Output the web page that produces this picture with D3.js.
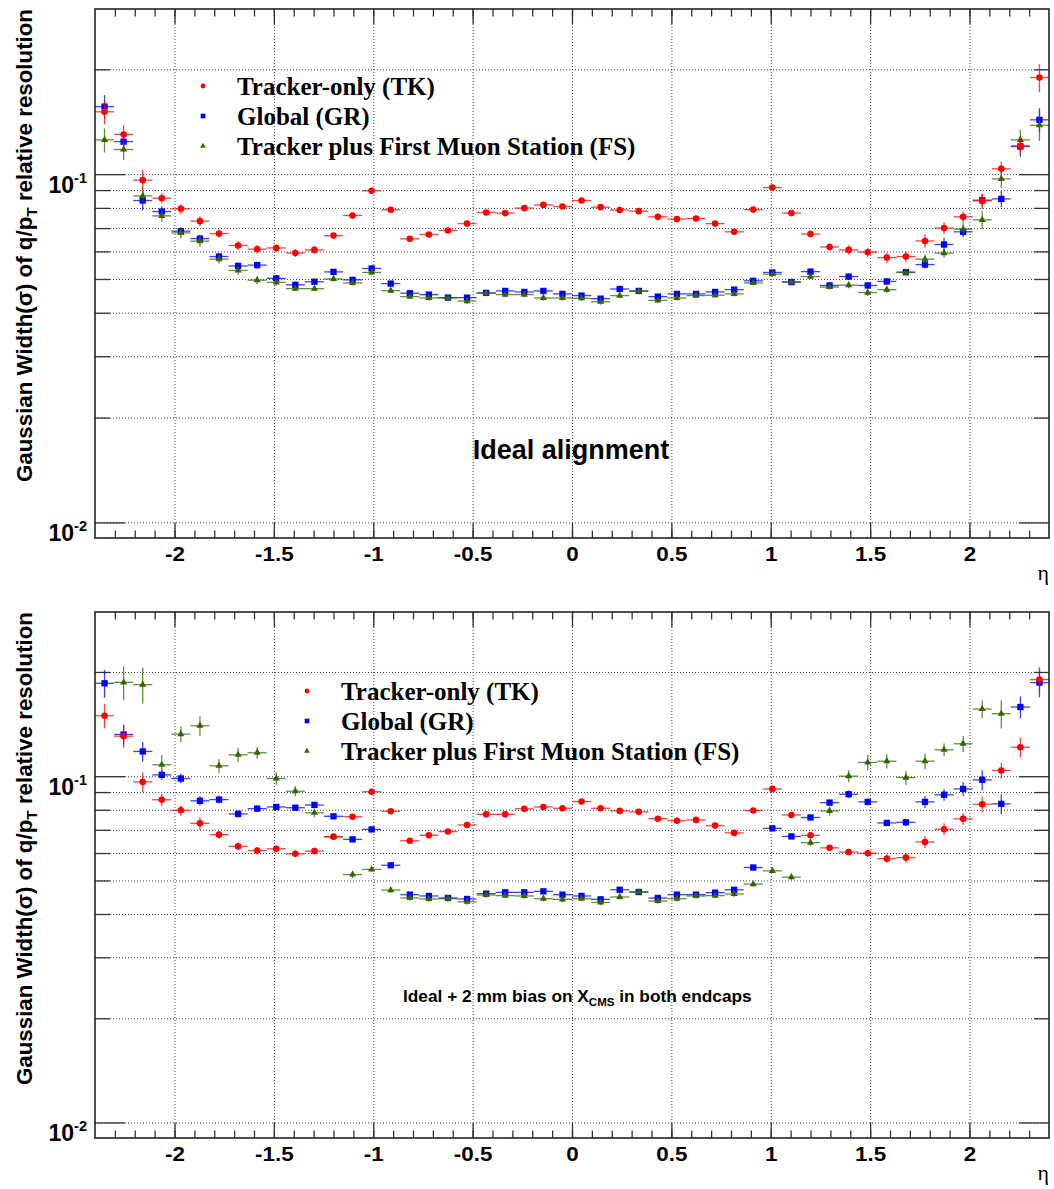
<!DOCTYPE html>
<html>
<head>
<meta charset="utf-8">
<title>q/pT resolution vs eta</title>
<script src="https://d3js.org/d3.v7.min.js"></script>
<style>
  body { margin: 0; background: #fff; }
  svg { display: block; background: #fff; }
  .frame { fill: none; stroke: #222; stroke-width: 1.6; }
  .grid line { stroke: #444; stroke-width: 1; stroke-dasharray: 1,2; }
  .grid path, .ticks path { display: none; }
  .ticks line { stroke: #333; stroke-width: 1.3; }
  .ticks text { font-family: "Liberation Sans", Arial, sans-serif; font-weight: bold; fill: #000; }
  .xlab text { font-size: 20px; }
  .title { font-family: "Liberation Sans", Arial, sans-serif; font-weight: bold; fill: #000; }
  .legend { font-family: "Liberation Serif", "Times New Roman", serif; font-weight: bold; font-size: 25px; fill: #000; }
</style>
</head>
<body>
<svg id="chart" width="1054" height="1189"></svg>
<script>
// eta bin centres (50 bins, width 0.096)
var etaBins = [-2.352, -2.256, -2.16, -2.064, -1.968, -1.872, -1.776, -1.68, -1.584, -1.488,
               -1.392, -1.296, -1.2, -1.104, -1.008, -0.912, -0.816, -0.72, -0.624, -0.528,
               -0.432, -0.336, -0.24, -0.144, -0.048, 0.048, 0.144, 0.24, 0.336, 0.432,
               0.528, 0.624, 0.72, 0.816, 0.912, 1.008, 1.104, 1.2, 1.296, 1.392,
               1.488, 1.584, 1.68, 1.776, 1.872, 1.968, 2.064, 2.16, 2.256, 2.352];
var binHalf = 0.048;

// --- top: ideal alignment ---
var tkIdeal = [0.151, 0.130, 0.0961, 0.0853, 0.0795, 0.0733, 0.0675, 0.0624, 0.0609, 0.0614,
               0.0594, 0.0606, 0.0666, 0.0761, 0.0896, 0.0790, 0.0652, 0.0671, 0.0689, 0.0721,
               0.0776, 0.0773, 0.0799, 0.0816, 0.0807, 0.0840, 0.0804, 0.0789, 0.0783, 0.0754,
               0.0743, 0.0746, 0.0721, 0.0683, 0.0791, 0.0915, 0.0773, 0.0673, 0.0618, 0.0606,
               0.0597, 0.0576, 0.0580, 0.0643, 0.0700, 0.0754, 0.0838, 0.1036, 0.1206, 0.1894];
var tkIdealErr = [0.012, 0.0082, 0.0066, 0.0028, 0.0026, 0.0024, 0.0018, 0.0018, 0.0016, 0.0015,
                  0.0015, 0.0015, 0.0012, 0.0012, 0.0012, 0.0010, 0.0009, 0.0009, 0.0009, 0.0009,
                  0.0009, 0.0009, 0.0009, 0.0009, 0.0009, 0.0009, 0.0009, 0.0009, 0.0009, 0.0009,
                  0.0009, 0.0009, 0.0009, 0.0009, 0.0012, 0.0012, 0.0012, 0.0015, 0.0015, 0.0018,
                  0.0018, 0.0020, 0.0022, 0.0028, 0.0028, 0.0027, 0.0044, 0.0051, 0.0060, 0.0175];
var grIdeal = [0.1563, 0.1240, 0.0840, 0.0781, 0.0686, 0.0653, 0.0580, 0.0545, 0.0548, 0.0502,
               0.0481, 0.0491, 0.0524, 0.0497, 0.0536, 0.0485, 0.0455, 0.0451, 0.0442, 0.0442,
               0.0456, 0.0462, 0.0459, 0.0462, 0.0453, 0.0448, 0.0439, 0.0468, 0.0462, 0.0445,
               0.0453, 0.0453, 0.0459, 0.0466, 0.0494, 0.0522, 0.0490, 0.0525, 0.0479, 0.0508,
               0.0479, 0.0492, 0.0523, 0.0550, 0.0628, 0.0683, 0.0842, 0.0849, 0.1200, 0.1432];
var grIdealErr = [0.0124, 0.0041, 0.0053, 0.0026, 0.0018, 0.0017, 0.0014, 0.0013, 0.0012, 0.0011,
                  0.0010, 0.0010, 0.0008, 0.0008, 0.0008, 0.0008, 0.0008, 0.0008, 0.0008, 0.0008,
                  0.0008, 0.0008, 0.0008, 0.0008, 0.0008, 0.0008, 0.0008, 0.0008, 0.0008, 0.0008,
                  0.0008, 0.0008, 0.0008, 0.0008, 0.0008, 0.0008, 0.0008, 0.0008, 0.0010, 0.0010,
                  0.0010, 0.0010, 0.0010, 0.0014, 0.0029, 0.0024, 0.0033, 0.0045, 0.0079, 0.0114];
var fsIdeal = [0.1254, 0.1177, 0.0866, 0.0759, 0.0678, 0.0642, 0.0570, 0.0529, 0.0496, 0.0489,
               0.0469, 0.0469, 0.0500, 0.0487, 0.0522, 0.0463, 0.0445, 0.0441, 0.0441, 0.0432,
               0.0455, 0.0451, 0.0451, 0.0441, 0.0441, 0.0440, 0.0430, 0.0448, 0.0461, 0.0434,
               0.0441, 0.0448, 0.0449, 0.0453, 0.0487, 0.0516, 0.0490, 0.0508, 0.0474, 0.0480,
               0.0457, 0.0466, 0.0522, 0.0570, 0.0593, 0.0695, 0.0739, 0.0969, 0.1254, 0.1382];
var fsIdealErr = [0.0100, 0.0078, 0.0030, 0.0030, 0.0025, 0.0023, 0.0016, 0.0014, 0.0012, 0.0011,
                  0.0008, 0.0008, 0.0008, 0.0008, 0.0008, 0.0008, 0.0008, 0.0008, 0.0008, 0.0008,
                  0.0008, 0.0008, 0.0008, 0.0008, 0.0008, 0.0008, 0.0008, 0.0008, 0.0008, 0.0008,
                  0.0008, 0.0008, 0.0008, 0.0008, 0.0008, 0.0008, 0.0008, 0.0008, 0.0008, 0.0010,
                  0.0010, 0.0010, 0.0010, 0.0015, 0.0018, 0.0030, 0.0044, 0.0058, 0.0089, 0.0137];

// --- bottom: ideal + 2 mm bias on X_CMS in both endcaps ---
var tkBias = [0.1495, 0.1305, 0.0963, 0.0855, 0.0797, 0.0731, 0.0678, 0.0627, 0.0610, 0.0617,
              0.0597, 0.0608, 0.0669, 0.0764, 0.0902, 0.0792, 0.0651, 0.0675, 0.0692, 0.0723,
              0.0776, 0.0776, 0.0805, 0.0815, 0.0808, 0.0845, 0.0808, 0.0794, 0.0789, 0.0754,
              0.0744, 0.0748, 0.0720, 0.0686, 0.0796, 0.0919, 0.0773, 0.0675, 0.0621, 0.0604,
              0.0599, 0.0578, 0.0582, 0.0646, 0.0703, 0.0753, 0.0830, 0.1039, 0.1213, 0.1901];
var tkBiasErr = [0.0120, 0.0096, 0.0064, 0.0035, 0.0028, 0.0030, 0.0018, 0.0016, 0.0015, 0.0014,
                 0.0014, 0.0014, 0.0014, 0.0009, 0.0009, 0.0009, 0.0009, 0.0009, 0.0009, 0.0009,
                 0.0009, 0.0009, 0.0009, 0.0009, 0.0009, 0.0009, 0.0009, 0.0009, 0.0009, 0.0009,
                 0.0009, 0.0009, 0.0009, 0.0009, 0.0009, 0.0009, 0.0013, 0.0013, 0.0013, 0.0013,
                 0.0013, 0.0016, 0.0020, 0.0026, 0.0028, 0.0030, 0.0044, 0.0055, 0.0080, 0.0164];
var grBias = [0.1855, 0.1320, 0.1179, 0.1009, 0.0985, 0.0849, 0.0856, 0.0778, 0.0806, 0.0815,
              0.0811, 0.0826, 0.0766, 0.0657, 0.0702, 0.0553, 0.0455, 0.0451, 0.0445, 0.0442,
              0.0458, 0.0462, 0.0462, 0.0465, 0.0455, 0.0451, 0.0441, 0.0470, 0.0463, 0.0445,
              0.0455, 0.0455, 0.0461, 0.0470, 0.0545, 0.0707, 0.0670, 0.0760, 0.0839, 0.0887,
              0.0843, 0.0733, 0.0736, 0.0843, 0.0884, 0.0919, 0.0976, 0.0832, 0.1584, 0.1864];
var grBiasErr = [0.0172, 0.0088, 0.0078, 0.0034, 0.0033, 0.0028, 0.0022, 0.0018, 0.0018, 0.0016,
                 0.0014, 0.0014, 0.0012, 0.0008, 0.0008, 0.0008, 0.0008, 0.0008, 0.0008, 0.0008,
                 0.0008, 0.0008, 0.0008, 0.0008, 0.0008, 0.0008, 0.0008, 0.0008, 0.0008, 0.0008,
                 0.0008, 0.0008, 0.0008, 0.0008, 0.0008, 0.0008, 0.0008, 0.0012, 0.0016, 0.0022,
                 0.0018, 0.0015, 0.0018, 0.0033, 0.0035, 0.0043, 0.0065, 0.0055, 0.0115, 0.0173];
var fsBias = [null, 0.1867, 0.1838, 0.1079, 0.1323, 0.1399, 0.1072, 0.1153, 0.1169, 0.0985,
              0.0905, 0.0784, 0.0668, 0.0520, 0.0538, 0.0469, 0.0445, 0.0442, 0.0443, 0.0434,
              0.0454, 0.0452, 0.0451, 0.0443, 0.0441, 0.0443, 0.0432, 0.0448, 0.0463, 0.0436,
              0.0443, 0.0451, 0.0452, 0.0457, 0.0488, 0.0533, 0.0511, 0.0643, 0.0794, 0.1000,
              0.1096, 0.1105, 0.0991, 0.1105, 0.1192, 0.1241, 0.1563, 0.1515, null, null];
var fsBiasErr = [null, 0.0210, 0.0220, 0.0072, 0.0070, 0.0092, 0.0050, 0.0054, 0.0046, 0.0040,
                 0.0030, 0.0022, 0.0014, 0.0012, 0.0008, 0.0008, 0.0008, 0.0008, 0.0008, 0.0008,
                 0.0008, 0.0008, 0.0008, 0.0008, 0.0008, 0.0008, 0.0008, 0.0008, 0.0008, 0.0008,
                 0.0008, 0.0008, 0.0008, 0.0008, 0.0008, 0.0008, 0.0010, 0.0016, 0.0024, 0.0040,
                 0.0058, 0.0052, 0.0046, 0.0058, 0.0050, 0.0066, 0.0094, 0.0142, null, null];

var legendLabels = ["Tracker-only (TK)", "Global (GR)", "Tracker plus First Muon Station (FS)"];
var xMajor = [-2, -1.5, -1, -0.5, 0, 0.5, 1, 1.5, 2];
var yMajor = [0.01, 0.1];
var yMinor = [0.02, 0.03, 0.04, 0.05, 0.06, 0.07, 0.08, 0.09, 0.2];

var svg = d3.select("#chart");
var frameL = 95, frameR = 1049;
var xMinor = d3.range(-2.3, 2.35, 0.1).map(function(v) { return Math.round(v * 10) / 10; });

var panels = [
  { top: 9, bottom: 538, tk: tkIdeal, tkE: tkIdealErr, gr: grIdeal, grE: grIdealErr, fs: fsIdeal, fsE: fsIdealErr,
    legX: 203, legY: 86 },
  { top: 612, bottom: 1138, tk: tkBias, tkE: tkBiasErr, gr: grBias, grE: grBiasErr, fs: fsBias, fsE: fsBiasErr,
    legX: 307, legY: 691 }
];

function drawSeries(g, x, y, vals, errs, color, sym, size) {
  var pts = etaBins.map(function(e, i) { return { eta: e, v: vals[i], e: errs[i] }; })
                   .filter(function(d) { return d.v != null; });
  var s = g.append("g");
  s.selectAll("line.h").data(pts).enter().append("line")
    .attr("x1", function(d) { return x(d.eta - binHalf); })
    .attr("x2", function(d) { return x(d.eta + binHalf); })
    .attr("y1", function(d) { return y(d.v); })
    .attr("y2", function(d) { return y(d.v); })
    .attr("stroke", color).attr("stroke-width", 1.3).attr("stroke-opacity", 0.75);
  s.selectAll("line.v").data(pts).enter().append("line")
    .attr("x1", function(d) { return x(d.eta); })
    .attr("x2", function(d) { return x(d.eta); })
    .attr("y1", function(d) { return y(d.v - d.e); })
    .attr("y2", function(d) { return y(d.v + d.e); })
    .attr("stroke", color).attr("stroke-width", 1.3).attr("stroke-opacity", 0.75);
  s.selectAll("path").data(pts).enter().append("path")
    .attr("d", d3.symbol().type(sym).size(size))
    .attr("transform", function(d) { return "translate(" + x(d.eta) + "," + y(d.v) + ")"; })
    .attr("fill", color);
}

panels.forEach(function(p, idx) {
  var x = d3.scaleLinear().domain([-2.4, 2.4]).range([frameL, frameR]);
  var y = d3.scaleLog().domain([0.00902, 0.298]).range([p.bottom, p.top]);
  var w = frameR - frameL, h = p.bottom - p.top;

  // grid
  svg.append("g").attr("class", "grid").attr("transform", "translate(" + frameL + ",0)")
    .call(d3.axisLeft(y).tickValues(yMajor.concat(yMinor)).tickSize(-w).tickFormat(""));
  svg.append("g").attr("class", "grid").attr("transform", "translate(0," + p.bottom + ")")
    .call(d3.axisBottom(x).tickValues(xMajor).tickSize(-h).tickFormat(""));

  // x ticks (bottom + top)
  var xb = svg.append("g").attr("class", "ticks xlab").attr("transform", "translate(0," + p.bottom + ")")
    .call(d3.axisBottom(x).tickValues(xMajor).tickSize(-15).tickPadding(9).tickFormat(function(d) { return String(d); }));
  xb.selectAll(".tick text").attr("transform", "scale(1.12,1)");
  svg.append("g").attr("class", "ticks").attr("transform", "translate(0," + p.bottom + ")")
    .call(d3.axisBottom(x).tickValues(xMinor).tickSize(-7.5).tickFormat(""));
  svg.append("g").attr("class", "ticks").attr("transform", "translate(0," + p.top + ")")
    .call(d3.axisTop(x).tickValues(xMajor).tickSize(-15).tickFormat(""));
  svg.append("g").attr("class", "ticks").attr("transform", "translate(0," + p.top + ")")
    .call(d3.axisTop(x).tickValues(xMinor).tickSize(-7.5).tickFormat(""));

  // y ticks (left + right)
  var yl = svg.append("g").attr("class", "ticks").attr("transform", "translate(" + frameL + ",0)")
    .call(d3.axisLeft(y).tickValues(yMajor).tickSize(-30).tickPadding(8).tickFormat(""));
  yl.selectAll(".tick text").each(function(d) {
    var t = d3.select(this).attr("dy", null).attr("y", 18).text(null);
    t.append("tspan").attr("font-size", 23).text("10");
    t.append("tspan").attr("font-size", 14.5).attr("dy", -10).text(String(Math.round(Math.log10(d))));
  });
  svg.append("g").attr("class", "ticks").attr("transform", "translate(" + frameL + ",0)")
    .call(d3.axisLeft(y).tickValues(yMinor).tickSize(-15).tickFormat(""));
  svg.append("g").attr("class", "ticks").attr("transform", "translate(" + frameR + ",0)")
    .call(d3.axisRight(y).tickValues(yMajor).tickSize(-30).tickFormat(""));
  svg.append("g").attr("class", "ticks").attr("transform", "translate(" + frameR + ",0)")
    .call(d3.axisRight(y).tickValues(yMinor).tickSize(-15).tickFormat(""));

  // data
  var clipId = "clip" + idx;
  svg.append("clipPath").attr("id", clipId).append("rect")
    .attr("x", frameL).attr("y", p.top).attr("width", w).attr("height", h);
  var dg = svg.append("g").attr("clip-path", "url(#" + clipId + ")");
  drawSeries(dg, x, y, p.gr, p.grE, "#0000ff", d3.symbolSquare, 40);
  drawSeries(dg, x, y, p.fs, p.fsE, "#336600", d3.symbolTriangle, 22);
  drawSeries(dg, x, y, p.tk, p.tkE, "#ff0000", d3.symbolCircle, 34);

  // frame
  svg.append("rect").attr("class", "frame")
    .attr("x", frameL).attr("y", p.top).attr("width", w).attr("height", h);

  // axis titles
  var yt = svg.append("text").attr("class", "title").attr("font-size", 22.3)
    .attr("text-anchor", "end")
    .attr("transform", "translate(32," + p.top + ") rotate(-90)");
  yt.append("tspan").text("Gaussian Width(\u03c3) of q/p");
  yt.append("tspan").attr("font-size", 15.5).attr("dy", 5).text("T");
  yt.append("tspan").attr("dy", -5).text(" relative resolution");

  svg.append("text").attr("x", 1049).attr("y", p.bottom + 42).attr("text-anchor", "end")
    .attr("font-family", "Liberation Serif, serif").attr("font-size", 22).text("\u03b7");

  // legend
  var syms = [[d3.symbolCircle, "#ff0000", 18], [d3.symbolSquare, "#0000ff", 22], [d3.symbolTriangle, "#336600", 14]];
  legendLabels.forEach(function(lab, i) {
    var ly = p.legY + i * 30;
    svg.append("path").attr("d", d3.symbol().type(syms[i][0]).size(syms[i][2]))
      .attr("transform", "translate(" + p.legX + "," + ly + ")").attr("fill", syms[i][1]);
    svg.append("text").attr("class", "legend").attr("x", p.legX + 34).attr("y", ly + 9).text(lab);
  });
});

// panel annotations
svg.append("text").attr("class", "title").attr("font-size", 27).attr("text-anchor", "middle")
  .attr("x", 571).attr("y", 459).text("Ideal alignment");

var ann = svg.append("text").attr("class", "title").attr("font-size", 17.3).attr("x", 403).attr("y", 1001.7);
ann.append("tspan").text("Ideal + 2 mm bias on X");
ann.append("tspan").attr("font-size", 11.5).attr("dy", 4).text("CMS");
ann.append("tspan").attr("dy", -4).text(" in both endcaps");
</script>
</body>
</html>
